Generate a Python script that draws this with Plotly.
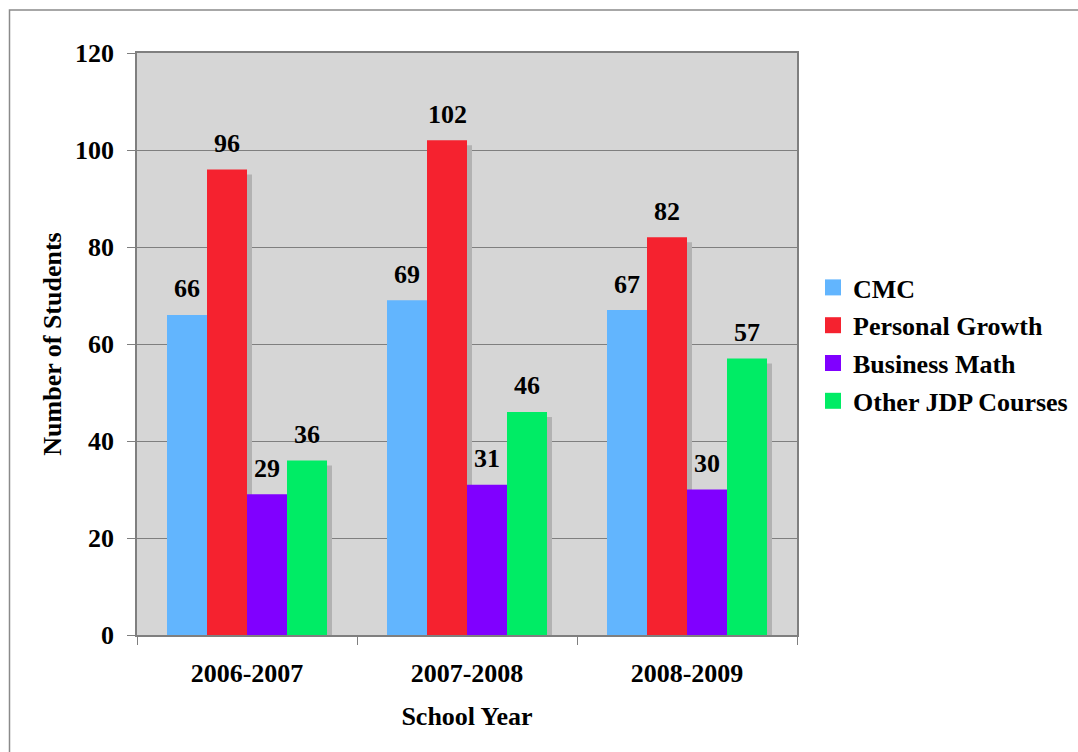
import plotly.graph_objects as go

# School-year enrolment by course
years = ["2006-2007", "2007-2008", "2008-2009"]
cmc = [66, 69, 67]
personal_growth = [96, 102, 82]
business_math = [29, 31, 30]
other_jdp = [36, 46, 57]

series_names = ["CMC", "Personal Growth", "Business Math", "Other JDP Courses"]
series_values = [cmc, personal_growth, business_math, other_jdp]
series_colors = ["#62b5fe", "#f5222f", "#8000ff", "#00ec65"]

FONT = "Liberation Serif, Times New Roman, serif"
FS = 26

# plot-area geometry (pixels) used to size the drop shadow
PLOT_W, PLOT_H = 660, 582
Y_MAX = 120
bar_w = 40 / (PLOT_W / len(years))
offsets = [-2 * bar_w + k * bar_w for k in range(4)]
shadow_dx = 5 / (PLOT_W / len(years))
shadow_dy = 5 / (PLOT_H / Y_MAX)

fig = go.Figure()

# drop shadows drawn first so the coloured bars sit on top
for vals, off in zip(series_values, offsets):
    fig.add_trace(go.Bar(
        x=years, y=[v - shadow_dy for v in vals],
        offset=off + shadow_dx, width=bar_w,
        marker=dict(color="#b2b2b2", line=dict(width=0)),
        showlegend=False, hoverinfo="skip",
    ))

for name, vals, off, col in zip(series_names, series_values, offsets, series_colors):
    fig.add_trace(go.Bar(
        x=years, y=vals, name=name,
        offset=off, width=bar_w,
        marker=dict(color=col, line=dict(width=0)),
        showlegend=False,
    ))
    # legend entry with a larger square swatch
    fig.add_trace(go.Scatter(
        x=[None], y=[None], mode="markers", name=name,
        marker=dict(symbol="square", size=16, color=col),
        legendgroup=name,
    ))
    for i, v in enumerate(vals):
        fig.add_annotation(
            x=i + off + bar_w / 2, y=v, text=str(v),
            showarrow=False, yanchor="middle", yshift=26,
            font=dict(family=FONT, size=FS, color="black", weight="bold"),
        )

# outer frame of the chart
fig.add_shape(
    type="rect", xref="paper", yref="paper",
    x0=(9.5 - 137) / PLOT_W, x1=1.8, y0=-0.4, y1=1 + (53 - 10) / PLOT_H,
    line=dict(color="#8a8a8a", width=1.5), layer="below",
)

fig.update_layout(
    width=1078, height=752,
    margin=dict(l=137, r=281, t=53, b=117, pad=0, autoexpand=False),
    barmode="overlay",
    plot_bgcolor="#d6d6d6", paper_bgcolor="white",
    font=dict(family=FONT, size=FS, color="black", weight="bold"),
    legend=dict(
        x=(813 - 137) / PLOT_W, y=1 - (264 - 53) / PLOT_H,
        xanchor="left", yanchor="top",
        font=dict(family=FONT, size=FS, color="black", weight="bold"),
        traceorder="grouped", tracegroupgap=1,
        bgcolor="rgba(0,0,0,0)", itemwidth=30,
    ),
    xaxis=dict(
        type="category", range=[-0.5, 2.5],
        tickson="boundaries", ticks="outside", ticklen=8, tickcolor="#7f7f7f",
        showline=True, linecolor="#7f7f7f", linewidth=1.5, mirror=True,
        showgrid=False,
        tickfont=dict(family=FONT, size=FS, weight="bold"),
        ticklabelstandoff=14,
        title=dict(text="School Year", standoff=20,
                   font=dict(family=FONT, size=FS, weight="bold")),
    ),
    yaxis=dict(
        range=[0, Y_MAX], dtick=20, tick0=0,
        ticks="outside", ticklen=8, tickcolor="#7f7f7f",
        showline=True, linecolor="#7f7f7f", linewidth=1.5, mirror=True,
        showgrid=True, gridcolor="#7f7f7f", gridwidth=1,
        zeroline=False,
        tickfont=dict(family=FONT, size=FS, weight="bold"),
        ticklabelstandoff=8,
        title=dict(text="Number of Students", standoff=6,
                   font=dict(family=FONT, size=FS, weight="bold")),
    ),
)

fig.write_html("out.html")
